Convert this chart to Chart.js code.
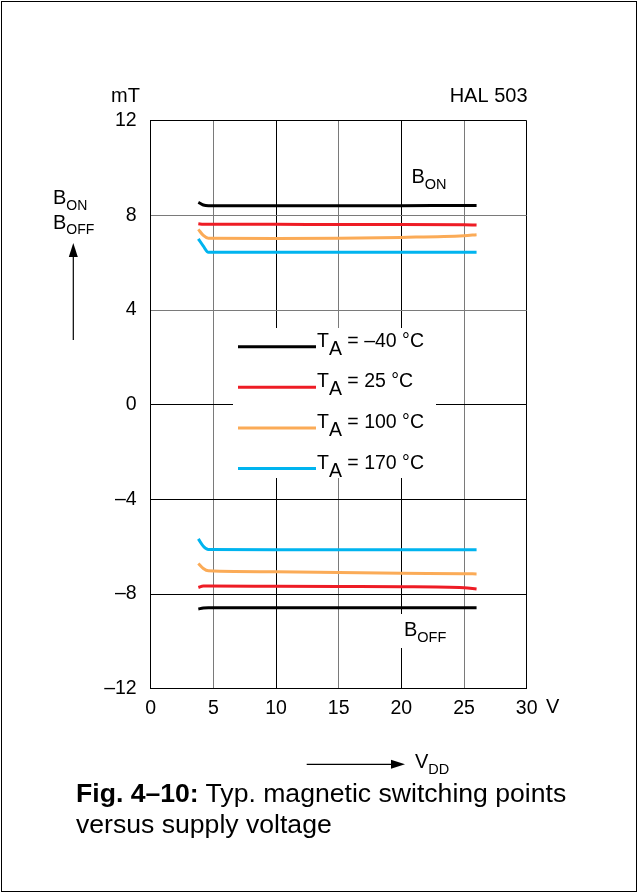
<!DOCTYPE html>
<html>
<head>
<meta charset="utf-8">
<script src="https://cdn.jsdelivr.net/npm/chart.js@4.4.1/dist/chart.umd.min.js"></script>
<style>
  html, body { margin: 0; padding: 0; background: #fff; }
  #chart { position: absolute; left: 0; top: 0; }
  #frame { position: absolute; left: 1px; top: 1px; width: 636px; height: 891px; box-sizing: border-box; border: 1px solid #000; pointer-events: none; }
  #caption { position: absolute; left: 76px; top: 778px; font: 26.6px/31px "Liberation Sans", Arial, sans-serif; color: #000; white-space: nowrap; }
</style>
</head>
<body>
<canvas id="chart" width="638" height="893"></canvas>
<div id="frame"></div>
<div id="caption"><b>Fig. 4–10:</b> Typ. magnetic switching points<br>versus supply voltage</div>
<script>
// ── Data ─────────────────────────────────────────────────────────────────────
const VDD = [3.8, 4.2, 4.6, 10, 15, 20, 25, 26];          // V
const TEMPS = [-40, 25, 100, 170];                          // °C
const COLORS = ["#000000", "#ee1c25", "#fbab57", "#00b4ef"];

// switch-on points (mT)
const BON_M40 = [8.55, 8.44, 8.41, 8.41, 8.41, 8.41, 8.42, 8.42];
const BON_25  = [7.65, 7.62, 7.62, 7.62, 7.61, 7.61, 7.60, 7.59];
const BON_100 = [7.41, 7.15, 7.03, 7.02, 7.03, 7.07, 7.14, 7.18];
const BON_170 = [7.01, 6.70, 6.44, 6.44, 6.44, 6.44, 6.44, 6.44];

// switch-off points (mT)
const BOFF_M40 = [-8.63, -8.59, -8.58, -8.58, -8.58, -8.58, -8.58, -8.58];
const BOFF_25  = [-7.72, -7.66, -7.66, -7.67, -7.68, -7.69, -7.73, -7.79];
const BOFF_100 = [-6.71, -6.92, -7.02, -7.06, -7.09, -7.12, -7.14, -7.15];
const BOFF_170 = [-5.67, -5.98, -6.12, -6.13, -6.13, -6.13, -6.13, -6.13];

const X_TICKS = [0, 5, 10, 15, 20, 25, 30];
const Y_TICKS = [-12, -8, -4, 0, 4, 8, 12];
const X_GRAY = [5, 15, 25];
const Y_GRAY = [8, 4];

// ── Helpers ──────────────────────────────────────────────────────────────────
const FONT = '"Liberation Sans", Arial, sans-serif';

function series(values, color) {
  return {
    data: VDD.map((x, i) => ({ x, y: values[i] })),
    borderColor: color,
    borderWidth: 3,
    pointRadius: 0,
    cubicInterpolationMode: "monotone",
    fill: false,
  };
}

function dash(v) {
  return v < 0 ? "–" + Math.abs(v) : String(v);
}

function subText(ctx, main, sub, x, y, size, subSize, drop) {
  ctx.font = `${size}px ${FONT}`;
  ctx.fillText(main, x, y);
  const w = ctx.measureText(main).width;
  ctx.font = `${subSize}px ${FONT}`;
  ctx.fillText(sub, x + w, y + drop);
  return x + w + ctx.measureText(sub).width;
}

function arrow(ctx, x1, y1, x2, y2) {
  const a = Math.atan2(y2 - y1, x2 - x1);
  const len = 14, half = 4.5;
  const bx = x2 - len * Math.cos(a), by = y2 - len * Math.sin(a);
  ctx.beginPath();
  ctx.moveTo(x1, y1);
  ctx.lineTo(bx, by);
  ctx.lineWidth = 1.2;
  ctx.strokeStyle = "#000";
  ctx.stroke();
  ctx.beginPath();
  ctx.moveTo(x2, y2);
  ctx.lineTo(bx - half * Math.sin(a), by + half * Math.cos(a));
  ctx.lineTo(bx + half * Math.sin(a), by - half * Math.cos(a));
  ctx.closePath();
  ctx.fillStyle = "#000";
  ctx.fill();
}

// ── Annotations ──────────────────────────────────────────────────────────────
const annotations = {
  id: "annotations",
  afterDatasetsDraw(chart) {
    const ctx = chart.ctx;
    ctx.save();
    ctx.fillStyle = "#000";
    ctx.textBaseline = "alphabetic";

    // unit + part name
    ctx.font = `20px ${FONT}`;
    ctx.textAlign = "left";
    ctx.fillText("mT", 111, 102);
    ctx.textAlign = "right";
    ctx.fillText("HAL 503", 527.5, 102);
    ctx.textAlign = "left";
    ctx.fillText("V", 546, 712.5);

    // legend box
    ctx.fillStyle = "#fff";
    ctx.fillRect(233, 328, 203, 150);
    TEMPS.forEach((t, i) => {
      const y = 346.7 + 40.6 * i;
      ctx.beginPath();
      ctx.moveTo(238, y);
      ctx.lineTo(316, y);
      ctx.lineWidth = 3;
      ctx.strokeStyle = COLORS[i];
      ctx.stroke();
      ctx.fillStyle = "#000";
      const end = subText(ctx, "T", "A", 317, y, 19.5, 19.5, 8);
      ctx.font = `19.5px ${FONT}`;
      ctx.fillText(" = " + dash(t) + " °C", end, y);
    });

    // B_ON / B_OFF in plot
    ctx.fillStyle = "#000";
    subText(ctx, "B", "ON", 411.5, 183, 20, 14.5, 5.5);
    ctx.fillStyle = "#fff";
    ctx.fillRect(399, 614, 57, 34);
    ctx.fillStyle = "#000";
    subText(ctx, "B", "OFF", 404, 636, 20, 14.5, 5.5);

    // y-axis quantity + arrow
    subText(ctx, "B", "ON", 53, 204, 20, 14, 6);
    subText(ctx, "B", "OFF", 53, 228.5, 20, 14, 5);
    arrow(ctx, 73.3, 340, 73.3, 243);

    // x-axis quantity + arrow
    arrow(ctx, 306.7, 764.3, 405, 764.3);
    subText(ctx, "V", "DD", 415, 768, 20, 14.5, 5.5);

    ctx.restore();
  },
};

// ── Chart ────────────────────────────────────────────────────────────────────
new Chart(document.getElementById("chart"), {
  type: "line",
  data: {
    datasets: [
      series(BON_M40, COLORS[0]), series(BON_25, COLORS[1]),
      series(BON_100, COLORS[2]), series(BON_170, COLORS[3]),
      series(BOFF_M40, COLORS[0]), series(BOFF_25, COLORS[1]),
      series(BOFF_100, COLORS[2]), series(BOFF_170, COLORS[3]),
    ],
  },
  options: {
    responsive: false,
    animation: false,
    events: [],
    layout: { padding: { left: 0, right: 111.3, top: 120.7, bottom: 164.3 } },
    plugins: { legend: { display: false }, tooltip: { enabled: false } },
    scales: {
      x: {
        type: "linear",
        min: 0,
        max: 30,
        afterBuildTicks: (s) => { s.ticks = X_TICKS.map((v) => ({ value: v })); },
        afterFit: (s) => { s.height = 40; },
        border: { display: true, color: "#000", width: 1 },
        grid: {
          drawTicks: false,
          lineWidth: 1,
          color: (c) => (X_GRAY.includes(c.tick && c.tick.value) ? "#7a7a7a" : "#000"),
        },
        ticks: { color: "#000", padding: 8, maxRotation: 0, font: { family: FONT, size: 19.5 } },
      },
      y: {
        type: "linear",
        min: -12,
        max: 12,
        afterBuildTicks: (s) => { s.ticks = Y_TICKS.map((v) => ({ value: v })); },
        afterFit: (s) => { s.width = 150.7; },
        border: { display: true, color: "#000", width: 1 },
        grid: {
          drawTicks: false,
          lineWidth: 1,
          color: (c) => (Y_GRAY.includes(c.tick && c.tick.value) ? "#7a7a7a" : "#000"),
        },
        ticks: { color: "#000", padding: 14, callback: (v) => dash(v), font: { family: FONT, size: 19.5 } },
      },
    },
  },
  plugins: [annotations],
});
</script>
</body>
</html>
